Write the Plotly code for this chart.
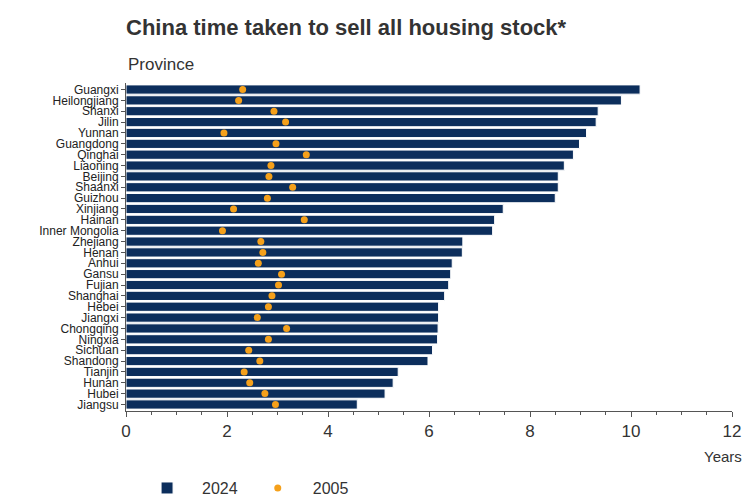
import plotly.graph_objects as go

provinces = ["Guangxi","Heilongjiang","Shanxi","Jilin","Yunnan","Guangdong","Qinghai","Liaoning","Beijing","Shaanxi","Guizhou","Xinjiang","Hainan","Inner Mongolia","Zhejiang","Henan","Anhui","Gansu","Fujian","Shanghai","Hebei","Jiangxi","Chongqing","Ningxia","Sichuan","Shandong","Tianjin","Hunan","Hubei","Jiangsu"]
y2024 = [10.18,9.81,9.35,9.31,9.12,8.98,8.86,8.68,8.56,8.56,8.50,7.47,7.30,7.26,6.67,6.66,6.46,6.43,6.39,6.31,6.19,6.19,6.18,6.17,6.07,5.98,5.39,5.29,5.13,4.58]
y2005 = [2.31,2.23,2.93,3.16,1.94,2.97,3.57,2.87,2.83,3.30,2.80,2.13,3.53,1.91,2.67,2.71,2.62,3.08,3.02,2.89,2.82,2.60,3.18,2.82,2.43,2.65,2.34,2.45,2.75,2.96]
xticks = [0,2,4,6,8,10,12]

F = "Liberation Sans, Arial, sans-serif"
fig = go.Figure()
fig.add_trace(go.Bar(y=provinces, x=y2024, orientation="h", name="2024",
                     marker=dict(color="#0c2e5c", line=dict(color="white", width=1)), width=0.85))
fig.add_trace(go.Scatter(y=provinces, x=y2005, mode="markers", name="2005",
                         marker=dict(color="#f5a01a", size=7)))
fig.update_layout(
    width=750, height=500, plot_bgcolor="white", paper_bgcolor="white",
    margin=dict(l=118, r=26, t=75, b=97, autoexpand=False),
    title=dict(text="<b>China time taken to sell all housing stock*</b>", x=118/750, xanchor="left",
               y=0.962, yanchor="middle", font=dict(family=F, size=22, color="#333")),
    font=dict(family=F, color="#222"),
    legend=dict(orientation="h", x=0.01, y=-0.235, xanchor="left", yanchor="middle",
                font=dict(size=16, color="#333"), itemwidth=60),
)
fig.layout.annotations = [
    dict(text="Province", xref="paper", yref="paper", x=0.0, y=1.09, xanchor="left", showarrow=False,
         font=dict(size=17, color="#333")),
    dict(text="Years", xref="paper", yref="paper", x=1.02, y=-0.14, xanchor="right", yanchor="middle",
         showarrow=False, font=dict(size=15, color="#333")),
    dict(text="*Completed and uncompleted", xref="paper", yref="paper", x=-0.195, y=-0.262, xanchor="left",
         yanchor="top", showarrow=False, font=dict(size=12.5, color="#333")),
    dict(text="<i>Source: LSEG Datastream / Fathom Consulting</i>", xref="paper", yref="paper", x=1.03, y=-0.262,
         xanchor="right", yanchor="top", showarrow=False, font=dict(size=13, color="#1f3864")),
]
fig.update_xaxes(range=[0,12], tickmode="array", tickvals=xticks, ticks="outside", ticklen=5, tickcolor="#555",
                 showline=True, linecolor="#555", showgrid=False, zeroline=False,
                 tickfont=dict(size=17, color="#333"),
                 minor=dict(dtick=0.5, ticks="outside", ticklen=3, tickcolor="#555"))
fig.update_yaxes(range=[29.6, -0.6], tickmode="array", tickvals=provinces, showline=True, linecolor="#555",
                 ticks="outside", ticklen=4, tickcolor="#555",
                 tickfont=dict(size=12, color="#222"), showgrid=False)
fig.write_html("out.html")
